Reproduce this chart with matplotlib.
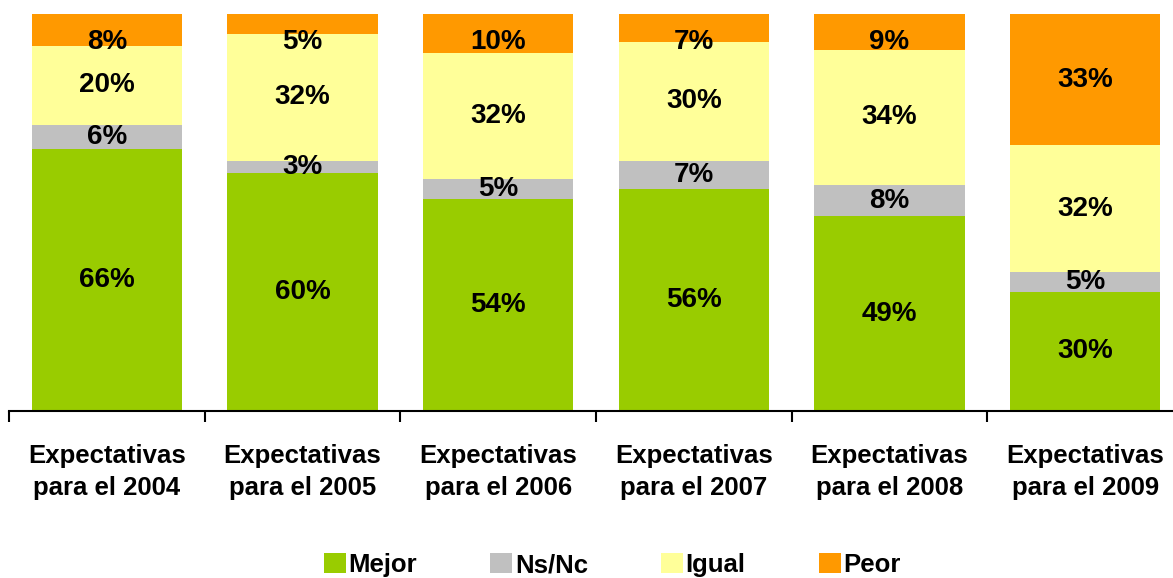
import numpy as np
import matplotlib.pyplot as plt

# datos (en %)
categorias = ['Expectativas\npara el 2004', 'Expectativas\npara el 2005',
              'Expectativas\npara el 2006', 'Expectativas\npara el 2007',
              'Expectativas\npara el 2008', 'Expectativas\npara el 2009']
mejor = [66, 60, 54, 56, 49, 30]
nsnc = [6, 3, 5, 7, 8, 5]
igual = [20, 32, 32, 30, 34, 32]
peor = [8, 5, 10, 7, 9, 33]

series = [('Mejor', mejor, '#99CC00'),
          ('Ns/Nc', nsnc, '#C0C0C0'),
          ('Igual', igual, '#FFFF99'),
          ('Peor', peor, '#FF9900')]

plt.rcParams['font.family'] = ['Liberation Sans', 'DejaVu Sans']
plt.rcParams['font.weight'] = 'bold'

fig = plt.figure(figsize=(11.73, 5.78), dpi=100)
ax = fig.add_axes([9/1173, 167/578, 1174/1173, 397/578])

x = np.arange(len(categorias))
total = np.sum([s[1] for s in series], axis=0)
base = np.zeros(len(categorias))
for nombre, vals, color in series:
    frac = np.array(vals) / total
    ax.bar(x, frac, 0.77, bottom=base, color=color, label=nombre)
    for xi, b, f, v in zip(x, base, frac, vals):
        yc = min(b + f / 2, 0.93)  # etiqueta superior no pegada al borde
        ax.text(xi, yc, '%d%%' % v, ha='center', va='center',
                fontsize=20, fontweight='bold')
    base += frac

ax.set_xlim(-0.5, len(categorias) - 0.5)
ax.set_ylim(0, 1)
for s in ['top', 'right', 'left']:
    ax.spines[s].set_visible(False)
ax.spines['bottom'].set_linewidth(1.5)
ax.set_yticks([])
ax.set_xticks(x)
ax.set_xticklabels(categorias, fontsize=18.5, fontweight='bold', linespacing=1.4)
ax.tick_params(axis='x', which='major', length=0, pad=24)
ax.set_xticks(np.arange(-0.5, len(categorias)), minor=True)
ax.tick_params(axis='x', which='minor', length=8, width=1.5, direction='out')

fig.legend(loc='center', bbox_to_anchor=(0.522, 1 - 565/578),
           ncol=4, frameon=False, handlelength=0.85,
           handleheight=0.85, handletextpad=0.1, columnspacing=2.85,
           prop={'weight': 'bold', 'size': 18.5})

fig.savefig('out.png', dpi=100)
